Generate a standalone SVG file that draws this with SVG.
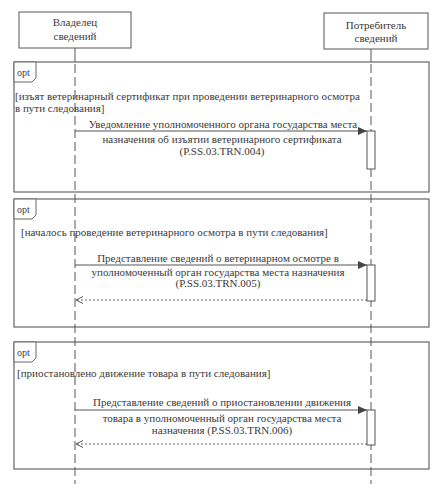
<svg xmlns="http://www.w3.org/2000/svg" width="446" height="494" viewBox="0 0 446 494">
<style>
text{font-family:"Liberation Serif","Times New Roman","DejaVu Serif",serif;font-size:11px;fill:#3a3a3a}
.c{text-anchor:middle}
.box{fill:#fff;stroke:#555;stroke-width:1}
.frame{fill:none;stroke:#666;stroke-width:1.2}
.life{stroke:#555;stroke-width:1;fill:none}
.dash{stroke-dasharray:9 4}
.msg{stroke:#555;stroke-width:1;fill:none}
.ret{stroke:#666;stroke-width:1;fill:none;stroke-dasharray:2 2}
.act{fill:#fff;stroke:#555;stroke-width:1}
.lbl{fill:#fff;stroke:#666;stroke-width:1}
</style>
<defs>
<marker id="fill" markerWidth="10" markerHeight="8" refX="9" refY="4" orient="auto" markerUnits="userSpaceOnUse">
<path d="M0,0 L9,4 L0,8 z" fill="#444"/>
</marker>
<marker id="open" markerWidth="10" markerHeight="8" refX="8" refY="4" orient="auto" markerUnits="userSpaceOnUse">
<path d="M1,0.5 L8,4 L1,7.5" fill="none" stroke="#555" stroke-width="1"/>
</marker>
</defs>
<g id="frames">
<rect class="frame" x="14" y="62" width="415" height="130"/>
<path class="lbl" d="M14,62 H36 V78 L32,82 H14 Z"/>
<text x="17" y="76" style="font-size:10px">opt</text>
<text x="15" y="100">[изъят ветеринарный сертификат при проведении ветеринарного осмотра</text>
<text x="15" y="112">в пути следования]</text>
<rect class="frame" x="14" y="199" width="415" height="128"/>
<path class="lbl" d="M14,199 H36 V215 L32,219 H14 Z"/>
<text x="17" y="213" style="font-size:10px">opt</text>
<text x="21" y="236">[началось проведение ветеринарного осмотра в пути следования]</text>
<rect class="frame" x="14" y="342" width="415" height="127"/>
<path class="lbl" d="M14,342 H36 V358 L32,362 H14 Z"/>
<text x="17" y="356" style="font-size:10px">opt</text>
<text x="17" y="377">[приостановлено движение товара в пути следования]</text>
</g>
<g id="owner">
<rect class="box" x="19" y="12" width="112" height="36"/>
<text class="c" x="75" y="26">Владелец</text>
<text class="c" x="75" y="40">сведений</text>
<path class="life" d="M75,48 V62"/>
<path class="life dash" d="M75,64 V484"/>
</g>
<g id="consumer">
<rect class="box" x="324" y="13" width="104" height="36"/>
<text class="c" x="376" y="29">Потребитель</text>
<text class="c" x="376" y="42">сведений</text>
<path class="life" d="M371,49 V62"/>
<path class="life dash" d="M371,64 V484"/>
</g>
<g id="activations">
<rect class="act" x="367" y="131" width="8" height="38"/>
<rect class="act" x="367" y="265" width="8" height="36"/>
<rect class="act" x="367" y="410" width="8" height="35"/>
</g>
<g id="connectors">
<path class="msg" d="M75,131 H367" marker-end="url(#fill)"/>
<text class="c" x="223" y="128">Уведомление уполномоченного органа государства места</text>
<text class="c" x="222" y="143">назначения об изъятии ветеринарного сертификата</text>
<text class="c" x="222" y="155">(P.SS.03.TRN.004)</text>
<path class="msg" d="M75,265 H367" marker-end="url(#fill)"/>
<text class="c" x="218" y="262">Представление сведений о ветеринарном осмотре в</text>
<text class="c" x="218" y="276">уполномоченный орган государства места  назначения</text>
<text class="c" x="218" y="287">(P.SS.03.TRN.005)</text>
<path class="ret" d="M367,300 H76" marker-end="url(#open)"/>
<path class="msg" d="M75,410 H367" marker-end="url(#fill)"/>
<text class="c" x="222" y="406">Представление сведений о приостановлении движения</text>
<text class="c" x="222" y="422">товара в уполномоченный орган государства места</text>
<text class="c" x="222" y="434">назначения (P.SS.03.TRN.006)</text>
<path class="ret" d="M367,444 H76" marker-end="url(#open)"/>
</g>
</svg>
